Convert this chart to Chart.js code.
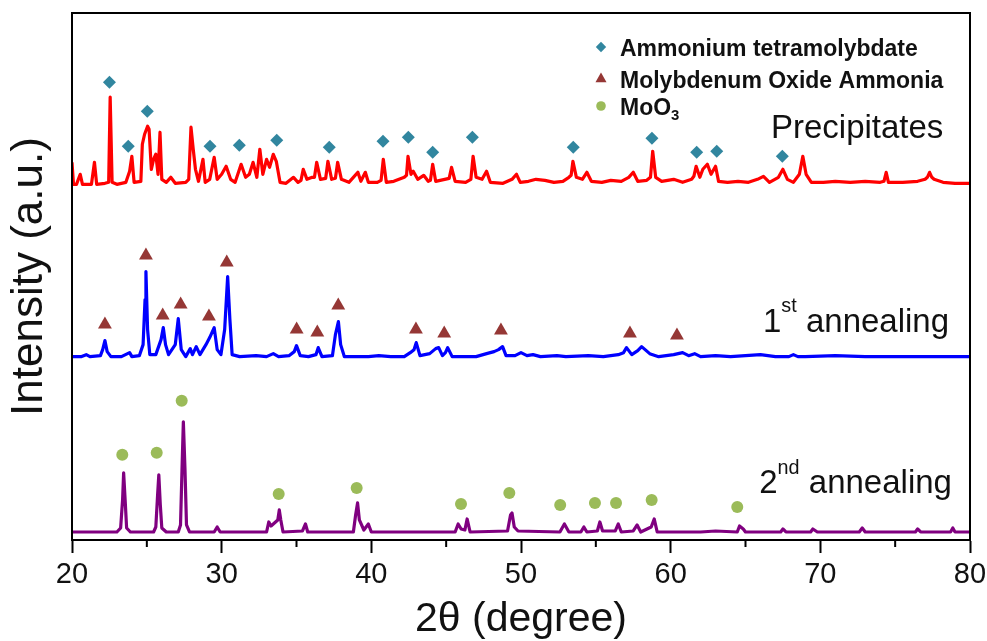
<!DOCTYPE html>
<html><head><meta charset="utf-8">
<script src="https://cdn.jsdelivr.net/npm/chart.js@4.4.1/dist/chart.umd.min.js"></script>
<style>html,body{margin:0;padding:0;background:#fff}#wrap{width:987px;height:641px;position:relative}</style>
</head><body><div id="wrap"><canvas id="c"></canvas></div>
<script>
// ---------- DATA (2θ in degrees, intensity in a.u. incl. vertical stacking offset) ----------
const xTicks = [20, 30, 40, 50, 60, 70, 80];
const seriesLabels = ['Precipitates', '1^st annealing', '2^nd annealing'];
const phaseLabels = ['Ammonium tetramolybdate', 'Molybdenum Oxide Ammonia', 'MoO_3'];

const precipitates = [[20.0,377],[20.1,355],[20.3,355],[20.55,365],[20.7,355],[21.3,355],[21.5,377],[21.65,355],[22.2,356],[22.45,357],[22.55,442],[22.68,357],[23.0,355],[23.6,357],[23.85,368],[24.0,383],[24.15,357],[24.6,358],[24.7,395],[24.85,405],[25.05,413],[25.15,410],[25.3,370],[25.45,380],[25.6,385],[25.75,365],[25.88,407],[26.0,360],[26.3,357],[26.6,362],[26.9,356],[27.6,357],[27.8,360],[27.95,412],[28.1,390],[28.25,370],[28.45,358],[28.75,380],[28.9,357],[29.2,360],[29.5,382],[29.7,360],[30.0,365],[30.3,373],[30.6,360],[30.9,357],[31.3,375],[31.6,362],[31.85,365],[32.1,377],[32.35,362],[32.55,390],[32.75,365],[33.0,380],[33.2,372],[33.45,385],[33.65,378],[33.9,357],[34.3,356],[34.8,362],[35.1,357],[35.3,359],[35.45,370],[35.7,360],[36.05,362],[36.2,362],[36.35,377],[36.6,360],[36.95,361],[37.1,378],[37.35,360],[37.6,361],[37.75,377],[38.0,360],[38.5,357],[38.8,362],[39.1,367],[39.3,358],[39.6,367],[39.8,357],[40.4,357],[40.65,359],[40.8,380],[41.0,357],[41.5,358],[42.2,362],[42.35,364],[42.45,383],[42.65,365],[42.8,368],[43.1,360],[43.5,364],[43.8,358],[43.95,359],[44.1,375],[44.3,358],[44.9,360],[45.2,361],[45.36,372],[45.6,358],[46.3,357],[46.65,360],[46.8,383],[47.0,362],[47.4,360],[47.7,368],[47.95,357],[48.8,356],[49.4,360],[49.7,365],[49.95,357],[50.5,358],[51.0,360],[51.6,359],[52.2,357],[52.8,358],[53.2,362],[53.35,364],[53.47,378],[53.7,362],[54.1,360],[54.4,367],[54.7,358],[55.4,357],[56.0,359],[56.7,358],[57.2,362],[57.5,367],[57.8,358],[58.4,359],[58.65,362],[58.8,388],[59.0,362],[59.4,358],[60.2,360],[60.8,357],[61.4,360],[61.55,363],[61.7,373],[61.95,362],[62.15,370],[62.45,375],[62.7,365],[63.0,373],[63.2,358],[63.8,357],[64.5,358],[65.2,357],[65.8,360],[66.2,363],[66.6,357],[67.2,362],[67.5,370],[67.8,360],[68.2,357],[68.6,365],[68.83,383],[69.05,365],[69.4,357],[70.2,357],[71.0,358],[72.0,357],[73.0,358],[74.0,357],[74.25,358],[74.4,367],[74.55,357],[75.5,357],[76.5,358],[77.0,360],[77.15,362],[77.3,367],[77.45,362],[77.6,360],[78.2,357],[79.0,356],[80.0,356]];

const annealing1 = [[20.0,183],[20.6,183],[20.95,185],[21.2,183],[21.9,184],[22.05,190],[22.2,199],[22.35,188],[22.6,183],[23.3,183],[23.85,187],[24.0,183],[24.5,184],[24.75,195],[24.88,240],[24.94,268],[25.05,210],[25.2,185],[25.6,185],[25.95,200],[26.1,212],[26.25,195],[26.45,185],[26.9,195],[27.1,221],[27.3,190],[27.6,183],[27.9,191],[28.05,185],[28.3,193],[28.55,185],[28.95,195],[29.2,202],[29.5,212],[29.7,190],[29.95,185],[30.2,210],[30.4,263],[30.55,220],[30.7,185],[31.2,183],[32.3,184],[33.0,183],[33.45,186],[33.8,183],[34.5,184],[34.85,188],[35.0,194],[35.25,184],[35.8,183],[36.3,185],[36.45,192],[36.7,183],[37.4,184],[37.6,205],[37.8,218],[37.95,195],[38.2,183],[39.0,183],[39.8,183],[40.5,184],[41.3,183],[42.2,183],[42.6,187],[42.85,190],[43.0,197],[43.25,184],[43.9,186],[44.3,191],[44.5,192],[44.75,184],[44.95,187],[45.1,192],[45.4,183],[46.0,183],[47.0,183],[47.7,186],[48.2,188],[48.5,190],[48.77,193],[49.0,184],[49.6,184],[50.0,187],[50.4,184],[50.8,185],[51.3,183],[52.4,184],[53.0,183],[54.5,184],[55.5,183],[56.5,185],[56.85,187],[57.05,192],[57.4,185],[57.8,189],[58.06,193],[58.6,186],[59.2,183],[60.2,185],[60.8,187],[61.2,184],[61.6,186],[62.0,183],[63.0,184],[64.0,183],[66.0,185],[67.0,183],[67.9,183],[68.2,185],[68.5,183],[69.0,183],[71.0,184],[73.0,183],[76.0,183],[80.0,183]];

const annealing2 = [[20.0,8],[23.0,8],[23.25,12],[23.38,40],[23.45,67],[23.55,40],[23.65,12],[23.9,8],[25.45,8],[25.6,13],[25.72,45],[25.8,65],[25.9,35],[26.0,12],[26.3,8],[27.1,8],[27.25,15],[27.35,70],[27.44,118],[27.55,70],[27.65,15],[27.85,8],[29.5,8],[29.7,13],[29.9,8],[33.0,8],[33.15,18],[33.3,14],[33.75,20],[33.85,30],[33.95,20],[34.1,8],[35.4,9],[35.6,16],[35.75,8],[38.8,8],[38.95,25],[39.08,37],[39.2,20],[39.5,10],[39.8,16],[40.0,8],[45.6,8],[45.8,16],[46.0,11],[46.25,10],[46.4,21],[46.6,8],[49.1,9],[49.3,25],[49.4,27],[49.55,13],[49.8,9],[52.6,8],[52.9,16],[53.2,8],[54.0,8],[54.2,13],[54.4,8],[55.1,9],[55.27,18],[55.45,9],[56.3,9],[56.5,16],[56.7,8],[57.5,9],[57.76,15],[58.0,8],[58.7,13],[58.9,21],[59.1,8],[62.0,8],[63.0,9],[64.45,8],[64.6,14],[64.85,11],[65.0,8],[67.35,8],[67.5,11],[67.7,8],[69.35,8],[69.5,11],[69.8,8],[72.6,8],[72.8,12],[73.0,8],[76.35,8],[76.5,11],[76.7,8],[78.7,8],[78.85,12],[79.0,8],[80.0,8]];

const tetramolybdatePeaks = [[22.5,457],[23.76,393],[25.03,428],[29.22,393],[31.18,394],[33.68,399],[37.19,392],[40.78,398],[42.47,402],[44.1,387],[46.75,402],[53.49,392],[58.75,401],[61.74,387],[63.08,388],[67.46,383]];
const oxideAmmoniaPeaks = [[22.2,215],[24.94,284],[26.06,224],[27.26,235],[29.15,223],[30.34,277],[35.01,210],[36.39,207],[37.79,234],[42.98,210],[44.87,206],[48.66,209],[57.28,206],[60.42,204]];
const moo3Peaks = [[23.36,85],[25.66,87],[27.33,139],[33.81,46],[39.02,52],[45.99,36],[49.22,47],[52.62,35],[54.94,37],[56.35,37],[58.73,40],[64.45,33]];

// ---------- STYLE ----------
const FONT = "'Liberation Sans', Arial, sans-serif";
const lineColors = ['#ff0000', '#0000ff', '#800080'];
const markColors = ['#31869f', '#953735', '#9bbb59'];
const markStyles = ['rectRot', 'triangle', 'circle'];
const markRadius = [6.5, 8, 6];
const labelAnchors = [[66.70, 401], [66.17, 208], [65.92, 47]]; // text positions in data space
const labelFont = 33;
const legendLayout = {x: 601, rows: [47, 79, 106], textX: 620, font: 23, markerScale: 0.8};

const toXY = a => a.map(p => ({x: p[0], y: p[1]}));

function drawRich(ctx, str, x, y, size, weight) {
  const parts = str.split(/(\^\w+|_\w+)/).filter(s => s.length);
  let cx = x;
  ctx.textBaseline = 'alphabetic';
  ctx.textAlign = 'left';
  for (const p of parts) {
    let s = size, dy = 0, t = p;
    if (p[0] === '^') { s = size * 0.6; dy = -size * 0.58; t = p.slice(1); }
    else if (p[0] === '_') { s = size * 0.65; dy = size * 0.26; t = p.slice(1); }
    ctx.font = weight + ' ' + s + 'px ' + FONT;
    ctx.fillText(t, cx, y + dy);
    cx += ctx.measureText(t).width;
  }
}

const lineSets = [precipitates, annealing1, annealing2].map((d, i) => ({
  type: 'line', label: seriesLabels[i], data: toXY(d), borderColor: lineColors[i],
  borderWidth: 3.2, pointRadius: 0, tension: 0, fill: false, borderJoinStyle: 'round', order: 2
}));
const markSets = [tetramolybdatePeaks, oxideAmmoniaPeaks, moo3Peaks].map((d, i) => ({
  type: 'scatter', label: phaseLabels[i], data: toXY(d), pointStyle: markStyles[i],
  pointRadius: markRadius[i], pointHoverRadius: markRadius[i], backgroundColor: markColors[i],
  borderColor: markColors[i], borderWidth: 0, showLine: false, order: 1
}));

const decorPlugin = {
  id: 'decor',
  afterDraw(chart) {
    const ctx = chart.ctx, a = chart.chartArea, xs = chart.scales.x, ys = chart.scales.y;
    ctx.save();
    // frame
    ctx.strokeStyle = '#000'; ctx.lineWidth = 2;
    ctx.strokeRect(a.left, a.top, a.right - a.left, a.bottom - a.top);
    // minor ticks halfway between major ticks
    const tv = xs.ticks.map(t => t.value);
    ctx.beginPath();
    for (let i = 0; i < tv.length - 1; i++) {
      const px = xs.getPixelForValue((tv[i] + tv[i + 1]) / 2);
      ctx.moveTo(px, a.bottom); ctx.lineTo(px, a.bottom + 7);
    }
    ctx.stroke();
    // series labels
    ctx.fillStyle = '#111';
    labelAnchors.forEach((p, i) => {
      drawRich(ctx, seriesLabels[i], xs.getPixelForValue(p[0]), ys.getPixelForValue(p[1]), labelFont, 'normal');
    });
    // legend
    markSets.forEach((d, i) => {
      ctx.fillStyle = d.backgroundColor;
      Chart.helpers.drawPoint(ctx, {pointStyle: d.pointStyle, radius: d.pointRadius * legendLayout.markerScale, rotation: 0, borderWidth: 0}, legendLayout.x, legendLayout.rows[i]);
      ctx.fillStyle = '#111';
      drawRich(ctx, phaseLabels[i], legendLayout.textX, legendLayout.rows[i] + 8.5, legendLayout.font, 'bold');
    });
    ctx.restore();
  }
};

new Chart(document.getElementById('c'), {
  data: {datasets: [...lineSets, ...markSets]},
  options: {
    responsive: true, maintainAspectRatio: false, animation: false, devicePixelRatio: 1, events: [],
    layout: {padding: {top: 13, right: 17, left: 0, bottom: 0}},
    plugins: {legend: {display: false}, tooltip: {enabled: false}},
    scales: {
      x: {
        type: 'linear', position: 'bottom', min: xTicks[0], max: xTicks[xTicks.length - 1],
        afterBuildTicks: s => { s.ticks = xTicks.map(v => ({value: v})); },
        afterFit: s => { s.height = 101; s.paddingLeft = 0; s.paddingRight = 0; },
        ticks: {color: '#111', font: {family: FONT, size: 29}, padding: 5, maxRotation: 0, autoSkip: false},
        grid: {drawOnChartArea: false, drawTicks: true, tickLength: 13, tickWidth: 2, tickColor: '#000'},
        border: {display: true, color: '#000', width: 2},
        title: {display: true, text: '2θ (degree)', color: '#111', font: {family: FONT, size: 41, lineHeight: 1.0}, padding: {top: 0, bottom: 1}}
      },
      y: {
        type: 'linear', position: 'left', min: 0, max: 526,
        afterFit: s => { s.width = 72; },
        ticks: {display: false},
        grid: {display: false, drawTicks: false},
        border: {display: true, color: '#000', width: 2},
        title: {display: true, text: 'Intensity (a.u.)', color: '#111', font: {family: FONT, size: 44, lineHeight: 1.0}, padding: {top: 8, bottom: 0}}
      }
    }
  },
  plugins: [decorPlugin]
});
</script>
</body></html>
